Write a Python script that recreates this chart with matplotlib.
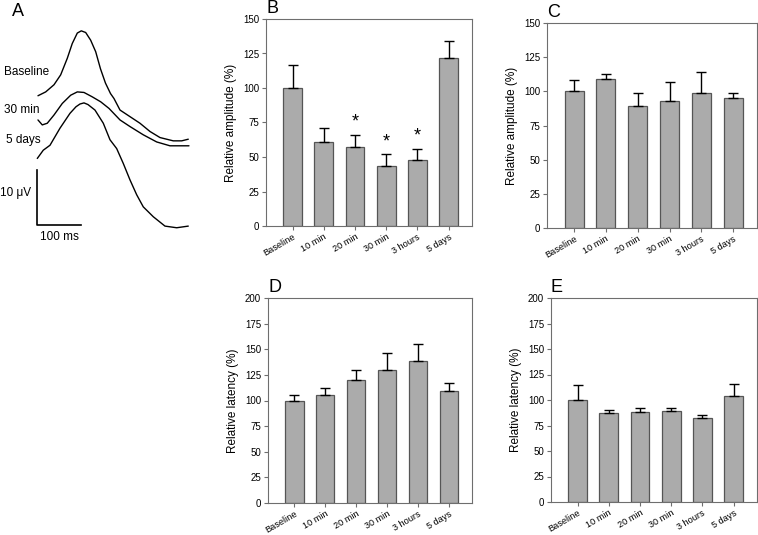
import matplotlib
matplotlib.use("Agg")
import matplotlib.pyplot as plt
import numpy as np

plt.rcParams['font.family'] = ['Liberation Sans', 'DejaVu Sans']

# ---------------- data ----------------
categories = ["Baseline", "10 min", "20 min", "30 min", "3 hours", "5 days"]

# Panel B: relative amplitude
b_mean = [100, 61, 57.5, 43.5, 48, 122]
b_err = [16.5, 10, 8.5, 8.5, 8, 12]
b_star = [False, False, True, True, True, False]

# Panel C: relative amplitude
c_mean = [100, 109, 89, 93, 98.5, 95]
c_err = [8.5, 4, 9.5, 13.5, 15.5, 4]

# Panel D: relative latency
d_mean = [100, 105, 120, 130, 139, 109]
d_err = [5, 7, 10, 16, 16, 8]

# Panel E: relative latency
e_mean = [100, 87, 88, 89, 82, 104]
e_err = [14.5, 3.5, 4, 3.5, 3.5, 12]

# Panel A: example traces (time in ms, amplitude in microvolts)
base_t = [1.6, 19.4, 38.5, 53.9, 69.1, 80.6, 92.2, 101.4, 111.5, 123.0, 134.6,
          145.6, 157.1, 168.7, 176.7, 190.6, 213.6, 236.6, 259.7, 282.7, 313.3,
          332.7, 347.9]
base_v = [23.5, 24.2, 25.5, 27.3, 30.3, 33.0, 34.9, 35.3, 35.0, 33.6, 31.5,
          28.4, 25.8, 23.9, 23.0, 20.9, 19.7, 18.5, 17.0, 15.9, 15.3,
          15.3, 15.6]
m30_t = [1.6, 11.5, 23.0, 38.5, 57.6, 77.0, 92.2, 107.6, 126.7, 146.1, 165.2,
         190.6, 213.6, 244.2, 275.1, 305.7, 328.8, 349.5]
m30_v = [19.1, 18.2, 18.5, 20.0, 22.1, 23.6, 24.2, 24.1, 23.3, 22.4, 21.2,
         19.1, 17.9, 16.4, 15.1, 14.4, 14.4, 14.4]
d5_t = [0, 13.8, 29.3, 52.3, 75.3, 89.2, 98.4, 107.6, 116.8, 132.9, 152.1,
        167.5, 182.9, 198.1, 213.6, 229.0, 244.2, 267.3, 294.2, 321.2, 347.9]
d5_v = [12.1, 13.6, 14.5, 17.6, 20.3, 21.5, 22.0, 22.2, 21.9, 20.9, 18.5,
        15.5, 13.9, 11.2, 8.2, 5.5, 3.3, 1.5, -0.2, -0.5, -0.2]
scale_ms = 100
scale_uv = 10

# ---------------- figure ----------------
W, H = 758, 535
fig = plt.figure(figsize=(W / 100, H / 100), dpi=100)


def px_axes(x0, y0, x1, y1):
    return fig.add_axes([x0 / W, 1 - y1 / H, (x1 - x0) / W, (y1 - y0) / H])


BAR_FC = '#ababab'
EDGE = '#555555'
SPINE = '#6e6e6e'


def bar_panel(ax, means, errs, ymax, ylabel, letter, stars=None):
    x = np.arange(len(categories))
    ax.bar(x, means, width=0.6, color=BAR_FC, edgecolor=EDGE, linewidth=0.9, zorder=2)
    ax.errorbar(x, means, yerr=[np.zeros(len(errs)), errs], fmt='none',
                ecolor='black', elinewidth=1.0, capsize=3.5, capthick=1.0, zorder=3)
    if stars is not None:
        for xi, m, e, s in zip(x, means, errs, stars):
            if s:
                ax.text(xi, m + e + 3, '*', ha='center', va='bottom', fontsize=13)
    ax.set_xlim(-0.85, 5.75)
    ax.set_ylim(0, ymax)
    ax.set_yticks(np.arange(0, ymax + 1, 25))
    ax.set_xticks(x)
    ax.set_xticklabels(categories, rotation=30, ha='right', rotation_mode='anchor',
                       fontsize=6.6)
    ax.tick_params(axis='y', labelsize=7, length=3, width=0.8, color=SPINE, pad=2)
    ax.tick_params(axis='x', length=3, width=0.8, color=SPINE, pad=1.5)
    for sp in ax.spines.values():
        sp.set_color(SPINE)
        sp.set_linewidth(0.8)
    ax.set_ylabel(ylabel, fontsize=8.5, labelpad=4)
    ax.text(0.0, 1.01, letter, transform=ax.transAxes, fontsize=13,
            ha='left', va='bottom')


axB = px_axes(266, 19, 472, 226)
bar_panel(axB, b_mean, b_err, 150, 'Relative amplitude (%)', 'B', b_star)

axC = px_axes(547, 23, 757, 228)
bar_panel(axC, c_mean, c_err, 150, 'Relative amplitude (%)', 'C')

axD = px_axes(268, 298, 472, 503)
bar_panel(axD, d_mean, d_err, 200, 'Relative latency (%)', 'D')

axE = px_axes(551, 298, 757, 502)
bar_panel(axE, e_mean, e_err, 200, 'Relative latency (%)', 'E')

# ---------------- panel A ----------------
axA = px_axes(0, 0, 200, 250)
axA.set_xlim(-85.9, 374.9)
axA.set_ylim(-4.545, 40.909)
axA.axis('off')
for t, v in [(base_t, base_v), (m30_t, m30_v), (d5_t, d5_v)]:
    axA.plot(t, v, color='black', lw=1.0, solid_joinstyle='round',
             solid_capstyle='round')
axA.plot([0, 0, scale_ms], [scale_uv, 0, 0], color='black', lw=1.2)
axA.text(-76.7, 27.8, 'Baseline', fontsize=8.5, ha='left', va='center')
axA.text(-76.7, 20.9, '30 min', fontsize=8.5, ha='left', va='center')
axA.text(-72.1, 15.45, '5 days', fontsize=8.5, ha='left', va='center')
axA.text(-85.9, 5.8, '10 \u03bcV', fontsize=8.5, ha='left', va='center')
axA.text(50, -2.2, '100 ms', fontsize=8.5, ha='center', va='center')
axA.text(-58.3, 38.9, 'A', fontsize=13, ha='left', va='center')

fig.savefig('out.png', dpi=100)
